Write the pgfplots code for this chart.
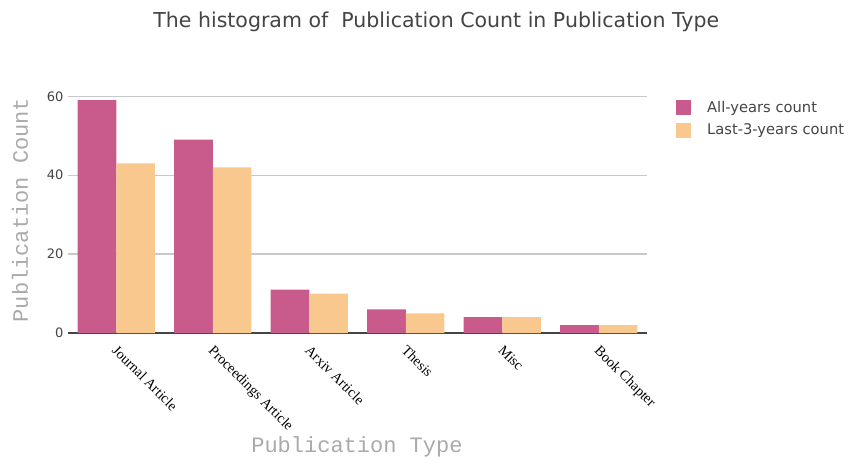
\documentclass[border=0pt]{standalone}
\usepackage{fontspec}
\setmainfont{DejaVu Sans}
\newfontfamily\timesf{Liberation Serif}
\newfontfamily\courf{Liberation Mono}
\usepackage{pgfplots}
\pgfplotsset{compat=1.18}

\definecolor{allc}{HTML}{C85A8C}
\definecolor{lastc}{HTML}{F9C88F}
\definecolor{txt}{HTML}{444444}
\definecolor{gridc}{HTML}{C8C8C8}
\definecolor{labc}{HTML}{AAAAAA}

\begin{document}
\begin{tikzpicture}
\useasboundingbox (0pt,0pt) rectangle (850pt,463pt);
\begin{axis}[
  at={(68pt,130pt)}, anchor=south west,
  scale only axis, width=579pt, height=245pt,
  xmin=-0.5, xmax=5.5, ymin=0, ymax=62.1,
  axis x line=bottom, axis y line=left,
  x axis line style={draw=txt, line width=1.6pt, -},
  y axis line style={draw=none},
  major tick length=0pt,
  xtick={0,1,2,3,4,5},
  xticklabels={Journal Article,Proceedings Article,Arxiv Article,Thesis,Misc,Book Chapter},
  ytick={0,20,40,60},
  ymajorgrids, grid style={draw=gridc, line width=1.2pt},
  /pgf/number format/assume math mode=true,
  yticklabel style={font=\fontsize{13}{15}\selectfont, text=txt, xshift=-1pt},
  xticklabel style={font=\timesf\fontsize{14.3}{16}\selectfont, text=black, rotate=-45, anchor=north west, xshift=6pt, yshift=-3pt},
  title={The histogram of \ Publication Count in Publication Type},
  title style={font=\fontsize{20.5}{24}\selectfont, text=txt, at={(0.636,1.245)}, anchor=center},
  xlabel={Publication Type},
  xlabel style={font=\courf\fontsize{22}{24}\selectfont, text=labc, at={(rel axis cs:0.499,-0.465)}, anchor=center},
  ylabel={Publication Count},
  ylabel style={font=\courf\fontsize{22}{24}\selectfont, text=labc, at={(rel axis cs:-0.083,0.502)}, anchor=center, rotate=0},
  legend style={at={(1.050,0.953)}, anchor=north west, draw=none, fill=none,
    font=\fontsize{14.7}{16}\selectfont, text=txt, row sep=8pt, inner sep=0pt,
    nodes={inner sep=0pt}, column sep=0pt},
  legend cell align=left,
  legend image code/.code={\fill[#1] (0pt,-7.5pt) rectangle (15pt,7.5pt);\path (31pt,0pt);},
]
\addplot[ybar, fill=allc, draw=none, bar width=0.4, bar shift=-0.2]
  coordinates {(0,59) (1,49) (2,11) (3,6) (4,4) (5,2)};
\addlegendentry{All-years count}
\addplot[ybar, fill=lastc, draw=none, bar width=0.4, bar shift=0.2]
  coordinates {(0,43) (1,42) (2,10) (3,5) (4,4) (5,2)};
\addlegendentry{Last-3-years count}
\end{axis}
\end{tikzpicture}
\end{document}
